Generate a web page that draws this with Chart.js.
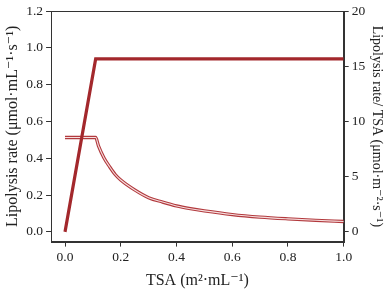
<!DOCTYPE html>
<html><head><meta charset="utf-8">
<script src="https://cdn.jsdelivr.net/npm/chart.js@4/dist/chart.umd.min.js"></script>
<style>html,body{margin:0;padding:0;background:#fff}#wrap{width:392px;height:291px}</style>
</head><body><div id="wrap"><canvas id="c" width="392" height="291"></canvas></div>
<script>
// Lipolysis rate (left axis, μmol·mL⁻¹·s⁻¹) vs TSA
const rateX = [0.0, 0.11, 1.0];
const rateY = [0.0, 0.94, 0.94];
// Lipolysis rate / TSA (right axis, μmol·m⁻²·s⁻¹)
const perTsaX = [0.0, 0.11, 0.12, 0.14, 0.16, 0.18, 0.2, 0.25, 0.3, 0.35, 0.4, 0.45, 0.5, 0.6, 0.7, 0.8, 0.9, 1.0];
const perTsaY = [8.55, 8.55, 7.8, 6.7, 5.9, 5.2, 4.7, 3.8, 3.1, 2.7, 2.35, 2.1, 1.9, 1.57, 1.34, 1.18, 1.05, 0.94];
const xTicks = [0.0, 0.2, 0.4, 0.6, 0.8, 1.0];
const yLeftTicks = [0.0, 0.2, 0.4, 0.6, 0.8, 1.0, 1.2];
const yRightTicks = [0, 5, 10, 15, 20];

const pts = (xs, ys) => xs.map((x, i) => ({x, y: ys[i]}));
const fam = '"Liberation Serif", "DejaVu Serif", serif';
const font = {family: fam, size: 13.5};
const tfont = {family: fam, size: 16};
const rfont = {family: fam, size: 14};
const setTicks = arr => s => { s.ticks = arr.map(v => ({value: v})); };

const frame = {
  id: 'frame',
  afterDraw(chart) {
    const {ctx, chartArea: a} = chart;
    ctx.save();
    ctx.strokeStyle = '#333';
    ctx.lineWidth = 1;
    ctx.strokeRect(Math.round(a.left) + 0.5, Math.round(a.top) + 0.5, Math.round(a.right - a.left), Math.round(a.bottom - a.top));
    ctx.restore();
  }
};

new Chart(document.getElementById('c'), {
  type: 'line',
  data: {
    datasets: [
      {data: pts(rateX, rateY), yAxisID: 'y', borderColor: '#a3282c', borderWidth: 3.2, pointRadius: 0, order: 0},
      {data: pts(perTsaX, perTsaY), yAxisID: 'y2', borderColor: '#f6dede', borderWidth: 1.1, pointRadius: 0, cubicInterpolationMode: 'monotone', order: 1},
      {data: pts(perTsaX, perTsaY), yAxisID: 'y2', borderColor: '#b23a3e', borderWidth: 3.3, pointRadius: 0, cubicInterpolationMode: 'monotone', order: 2}
    ]
  },
  options: {
    responsive: false,
    animation: false,
    devicePixelRatio: 1,
    layout: {padding: {top: 7, right: 4, left: 3, bottom: 1}},
    plugins: {legend: {display: false}, tooltip: {enabled: false}},
    scales: {
      x: {
        type: 'linear', min: -0.05, max: 1.0,
        afterBuildTicks: setTicks(xTicks),
        grid: {drawOnChartArea: false, drawTicks: true, tickLength: 5, color: '#333'},
        border: {display: true, color: '#333'},
        ticks: {font, color: '#222', padding: 3, maxRotation: 0, callback: v => v.toFixed(1)},
        title: {display: true, text: 'TSA (m²·mL⁻¹)', font: tfont, color: '#222', padding: {top: 2, bottom: 0}}
      },
      y: {
        type: 'linear', position: 'left', min: -0.053, max: 1.2,
        afterBuildTicks: setTicks(yLeftTicks),
        grid: {drawOnChartArea: false, drawTicks: true, tickLength: 5, color: '#333'},
        border: {display: true, color: '#333'},
        ticks: {font, color: '#222', padding: 3, callback: v => v.toFixed(1)},
        title: {display: true, text: 'Lipolysis rate (μmol·mL⁻¹·s⁻¹)', font: tfont, color: '#222', padding: {top: 0, bottom: 1}}
      },
      y2: {
        type: 'linear', position: 'right', min: -0.88, max: 20,
        afterBuildTicks: setTicks(yRightTicks),
        grid: {drawOnChartArea: false, drawTicks: true, tickLength: 5, color: '#333'},
        border: {display: true, color: '#333'},
        ticks: {font, color: '#222', padding: 3, callback: v => String(v)},
        title: {display: true, text: 'Lipolysis rate/ TSA (μmol·m⁻²·s⁻¹)', font: rfont, color: '#222', padding: {top: 3, bottom: 0}}
      }
    }
  },
  plugins: [frame]
});
</script></body></html>
